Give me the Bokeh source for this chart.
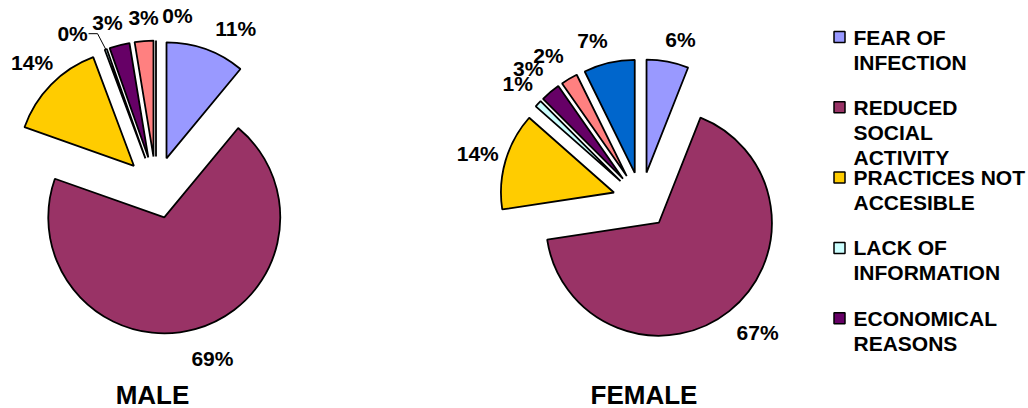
import numpy as np
from bokeh.plotting import figure
from bokeh.models import Range1d, ColumnDataSource
from bokeh.core.properties import value
from bokeh.embed import file_html
from bokeh.resources import INLINE

# ---------------- data ----------------
categories = [
    "FEAR OF\nINFECTION",
    "REDUCED\nSOCIAL\nACTIVITY",
    "PRACTICES NOT\nACCESIBLE",
    "LACK OF\nINFORMATION",
    "ECONOMICAL\nREASONS",
    "OTHER",
    "NOT SPECIFIED",
]
colors = ["#9999FF", "#993366", "#FFCC00", "#CCFFFF", "#660066", "#FF8080", "#0066CC"]
male_values = [11.0, 69.4, 13.9, 0.3, 2.8, 2.6, 0.0]
female_values = [6.0, 66.6, 13.9, 1.0, 2.8, 2.4, 7.3]
titles = ["MALE", "FEMALE"]
legend_count = 5  # only the first five entries are visible in the (clipped) legend

# ---------------- layout ----------------
W, H = 1028, 408
FONT = "Liberation Sans"

p = figure(width=W, height=H, x_range=Range1d(0, W), y_range=Range1d(0, H),
           output_backend="svg", toolbar_location=None, min_border=0,
           x_axis_type=None, y_axis_type=None)
p.grid.visible = False
p.outline_line_color = None
p.background_fill_color = "white"
p.border_fill_color = "white"

pies = [
    dict(values=male_values, title=titles[0], cx=155.5, cy=H - 187, r=116, d=31,
         nudge=[6.8, -2.8, 0.8, -8.5, -2.0, 0.5, 7.1],
         dist=[178, 180, 176, 175, 172, 170, 173], leader=[3], title_x=152),
    dict(values=female_values, title=titles[1], cx=640.7, cy=H - 200, r=113, d=28.4,
         nudge=[2.9, -2.9, -0.4, 0.2, -0.5, -2.0, -3.8],
         dist=[166, 176, 170, 170, 174, 172, 167], leader=[], title_x=643.5),
]

for pie in pies:
    v = np.array(pie["values"], dtype=float)
    r = pie["r"]
    frac = v / v.sum()
    cum_end = np.cumsum(frac)
    cum_start = cum_end - frac
    th_s = 2 * np.pi * cum_start          # clockwise from 12 o'clock
    th_e = 2 * np.pi * cum_end
    th_m = (th_s + th_e) / 2
    ex = pie["cx"] + pie["d"] * np.sin(th_m)
    ey = pie["cy"] + pie["d"] * np.cos(th_m)
    nz = frac > 1e-9
    src = ColumnDataSource(dict(
        x=ex[nz], y=ey[nz],
        start=(np.pi / 2 - th_s)[nz], end=(np.pi / 2 - th_e)[nz],
        color=list(np.array(colors)[nz]),
    ))
    p.wedge(x="x", y="y", radius=r, start_angle="start", end_angle="end",
            direction="clock", fill_color="color", line_color="black",
            line_width=1.8, source=src)
    z = ~nz
    if z.any():
        p.segment(x0=ex[z], y0=ey[z], x1=ex[z] + r * np.sin(th_s[z]),
                  y1=ey[z] + r * np.cos(th_s[z]), line_color="black", line_width=1.8)

    la = th_m + np.radians(pie["nudge"])
    dist = np.array(pie["dist"], dtype=float)
    lx = pie["cx"] + dist * np.sin(la)
    ly = pie["cy"] + dist * np.cos(la)
    labels = [f"{round(f * 100)}%" for f in frac]
    p.text(x=lx, y=ly, text=labels, text_align="center", text_baseline="middle",
           text_font=value(FONT), text_font_style="bold", text_font_size="21px",
           text_color="black")
    for i in pie["leader"]:
        ox = ex[i] + r * np.sin(th_m[i])
        oy = ey[i] + r * np.cos(th_m[i])
        p.line(x=[lx[i] + 16, lx[i] + 25, ox], y=[ly[i], ly[i], oy],
               line_color="black", line_width=1)

    p.text(x=[pie["title_x"]], y=[H - 394], text=[pie["title"]], text_align="center",
           text_baseline="middle", text_font=value(FONT), text_font_style="bold",
           text_font_size="26px", text_color="black")

# ---------------- legend ----------------
for i in range(legend_count):
    lines = categories[i].split("\n")
    mid = 36.5 + 70.3 * i
    p.rect(x=[839], y=[H - mid], width=11, height=11, fill_color=colors[i],
           line_color="black", line_width=1.5)
    p.text(x=[853] * len(lines), y=[H - (mid + 25 * k) for k in range(len(lines))],
           text=lines, text_align="left", text_baseline="middle",
           text_font=value(FONT), text_font_style="bold", text_font_size="21px",
           text_color="black")

open("out.html", "w").write(file_html(p, INLINE))
